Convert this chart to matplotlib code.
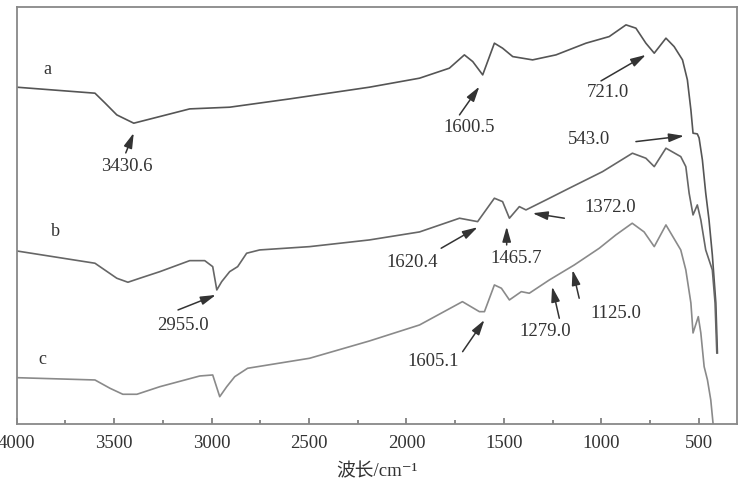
import numpy as np
import matplotlib
matplotlib.use("Agg")
import matplotlib.pyplot as plt
from matplotlib.ticker import MultipleLocator

plt.rcParams['font.family'] = ['Liberation Serif', 'Noto Sans CJK SC', 'DejaVu Serif']

# spectra (wavenumber in cm-1, transmittance in arbitrary units)
wn_a = [4000, 3598, 3547, 3486, 3399, 3112, 2907, 2599, 2190, 1933, 1780, 1703, 1660, 1609,
        1549, 1507, 1455, 1353, 1233, 1079, 960, 874, 823, 772, 729, 669, 627, 584, 559,
        541, 530, 508, 499, 482, 465, 448, 431, 413, 405]
t_a = [336.7, 330.7, 321, 309, 300.7, 315, 316.7, 325, 336.7, 345.7, 355.7, 369, 362.3, 349,
       380.7, 375.7, 367.3, 364, 369, 380.7, 387.3, 399, 395.7, 380.7, 370.7, 385.7, 377.3,
       364, 344, 314, 290.7, 290, 286, 264, 231, 204, 169, 121, 71]

wn_b = [4000, 3598, 3486, 3429, 3368, 3265, 3112, 3035, 2994, 2973, 2948, 2907, 2866, 2820,
        2753, 2497, 2190, 1933, 1728, 1635, 1549, 1507, 1472, 1421, 1387, 1284, 1165, 994,
        841, 772, 729, 669, 593, 567, 550, 530, 508, 490, 465, 431, 417, 408]
t_b = [173, 160.7, 145.7, 141.7, 145.7, 152.3, 163.3, 163.3, 157.3, 134, 142.3, 152.3, 157.3,
       170.7, 174, 177.3, 184, 192, 205.7, 202.3, 225.7, 222.3, 205.7, 217.3, 214, 224, 235.7,
       252.3, 270.7, 265.7, 257.3, 275.7, 267.3, 257.3, 230.7, 209, 219, 204, 174, 154, 121, 71]

wn_c = [4000, 3598, 3521, 3455, 3383, 3265, 3060, 2994, 2958, 2922, 2881, 2815, 2497, 2190,
        1933, 1713, 1626, 1600, 1549, 1513, 1472, 1411, 1370, 1267, 1139, 1011, 926, 842,
        781, 729, 669, 593, 567, 541, 530, 503, 490, 473, 456, 439, 427]
t_c = [46.3, 44, 35.7, 29.7, 29.7, 37.3, 48, 49, 27.3, 37.3, 47.3, 55.7, 65.7, 83,
       99, 122.3, 112.3, 112.3, 139, 135.7, 124, 132.3, 130.7, 144, 159, 175.7, 189, 200.7,
       192, 177.3, 199, 174, 154, 121, 91, 107.3, 91, 57.3, 44, 24, 0]

# peak labels: text, text position, arrow tail, arrow tip
peak_labels = ['3430.6', '1600.5', '721.0', '543.0', '1372.0', '1620.4', '1465.7',
               '2955.0', '1605.1', '1279.0', '1125.0']
label_pos = [(3434, 257), (1677, 296), (965, 331), (1062, 284), (956, 216.7), (1969, 161.3),
             (1438, 165.7), (3149, 98), (1865, 62.3), (1288, 92.3), (926, 110)]
arrow_from = [(3440, 271), (1728, 309), (1002, 343), (823, 282.3), (1190, 205.7), (1822, 175.7),
              (1486, 179), (3172, 114), (1712, 72.3), (1216, 105.7), (1114, 125.7)]
arrow_to = [(3399, 291), (1626, 337.3), (772, 369), (576, 288), (1353, 210.7), (1635, 196.7),
            (1486, 197.3), (2978, 129), (1600, 104), (1253, 137.3), (1148, 154)]

curve_names = ['a', 'b', 'c']
name_pos = [(3844, 354), (3803, 192), (3870, 64)]

fig = plt.figure(figsize=(7.38, 4.8), dpi=100)
ax = fig.add_axes([0.0225, 0.1167, 0.976, 0.869])

ax.plot(wn_a, t_a, color='#555555', lw=1.2)
ax.plot(wn_b, t_b, color='#666666', lw=1.2)
ax.plot(wn_c, t_c, color='#8a8a8a', lw=1.2)

for name, (x, y) in zip(curve_names, name_pos):
    ax.text(x, y, name, fontsize=13, color='#333333', ha='center', va='center')

for lab, pos, a0, a1 in zip(peak_labels, label_pos, arrow_from, arrow_to):
    ax.text(pos[0], pos[1], lab, fontsize=13.5, color='#333333', ha='center', va='center')
    ax.annotate('', xy=a1, xytext=a0,
                arrowprops=dict(arrowstyle='-|>,head_length=0.7,head_width=0.2',
                                color='#333333', lw=1.1,
                                mutation_scale=13, shrinkA=0, shrinkB=0))

ax.set_xlim(4000, 305)
ax.set_ylim(0, 417)
ax.xaxis.set_major_locator(MultipleLocator(500))
ax.xaxis.set_minor_locator(MultipleLocator(250))
ax.tick_params(axis='x', which='major', direction='in', length=4, width=1.2,
               color='#777777', labelsize=13.5, labelcolor='#333333', pad=8)
ax.tick_params(axis='x', which='minor', direction='in', length=3, width=1.2, color='#777777')
ax.set_yticks([])
for s in ax.spines.values():
    s.set_color('#888888')
    s.set_linewidth(1.3)

ax.set_xlabel('波长/cm⁻¹', fontsize=13.5, color='#333333', labelpad=8)

plt.savefig('out.png', dpi=100)
